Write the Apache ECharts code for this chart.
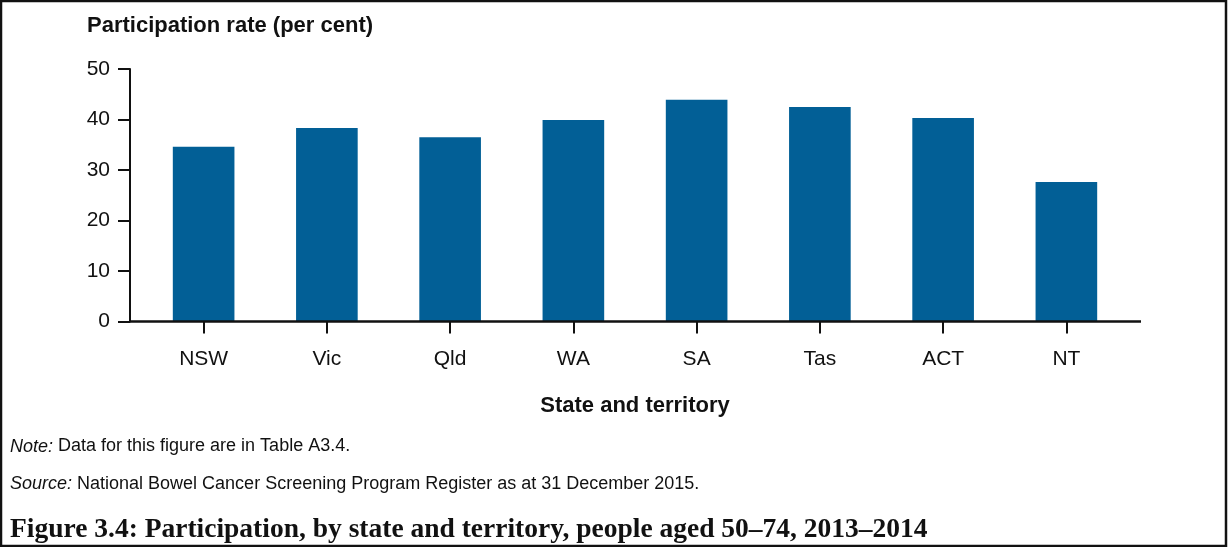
<!DOCTYPE html>
<html>
<head>
<meta charset="utf-8">
<script src="https://cdn.jsdelivr.net/npm/echarts@6/dist/echarts.min.js"></script>
<style>
html,body{margin:0;padding:0;background:#fff;}
#chart{width:1228px;height:547px;}
</style>
</head>
<body>
<div id="chart"></div>
<script>
const categories = ['NSW', 'Vic', 'Qld', 'WA', 'SA', 'Tas', 'ACT', 'NT'];
const participation = [34.6, 38.3, 36.5, 39.9, 43.9, 42.5, 40.3, 27.6];
const yTicks = [0, 10, 20, 30, 40, 50];

const yAxisTitle = 'Participation rate (per cent)';
const xAxisTitle = 'State and territory';
const noteLabel = 'Note:';
const noteText = ' Data for this figure are in Table A3.4.';
const sourceLabel = 'Source:';
const sourceText = ' National Bowel Cancer Screening Program Register as at 31 December 2015.';
const caption = 'Figure 3.4: Participation, by state and territory, people aged 50\u201374, 2013\u20132014';

const chart = echarts.init(document.getElementById('chart'), null, {renderer: 'canvas'});
const FONT = '"Liberation Sans", Arial, sans-serif';

const noteRich = {
  i: {fontFamily: FONT, fontSize: 18, fontStyle: 'italic', fontWeight: 'normal', color: '#111'},
  n: {fontFamily: FONT, fontSize: 18, fontWeight: 'normal', color: '#111'}
};

const option = {
  animation: false,
  backgroundColor: '#ffffff',
  title: [
    {
      text: yAxisTitle,
      left: 87, top: 14.5, padding: 0,
      textStyle: {fontFamily: FONT, fontSize: 22, fontWeight: 'bold', color: '#111'}
    },
    {
      text: xAxisTitle,
      left: 635, top: 394.5, padding: 0, textAlign: 'center',
      textStyle: {fontFamily: FONT, fontSize: 22, fontWeight: 'bold', color: '#111'}
    },
    {
      text: '{i|' + noteLabel + '}{n|' + noteText + '}',
      left: 10, top: 437.5, padding: 0,
      textStyle: {fontWeight: 'normal', rich: noteRich}
    },
    {
      text: '{i|' + sourceLabel + '}{n|' + sourceText + '}',
      left: 10, top: 475, padding: 0,
      textStyle: {fontWeight: 'normal', rich: noteRich}
    },
    {
      text: caption,
      left: 10, top: 516, padding: 0,
      textStyle: {fontFamily: '"Liberation Serif", "Times New Roman", serif', fontSize: 27.5, fontWeight: 'bold', color: '#111'}
    }
  ],
  grid: {left: 142, right: 100, top: 69, bottom: 225.5, containLabel: false},
  xAxis: {
    type: 'category',
    data: categories,
    boundaryGap: true,
    axisLine: {show: false},
    axisTick: {show: true, alignWithLabel: true, length: 12, lineStyle: {color: '#111', width: 2}},
    axisLabel: {fontFamily: FONT, fontSize: 21, color: '#111', margin: 27}
  },
  yAxis: {
    type: 'value',
    min: 0, max: 50, interval: 10,
    offset: 12,
    axisLine: {show: true, lineStyle: {color: '#111', width: 2}},
    axisTick: {show: true, length: 12, lineStyle: {color: '#111', width: 2}},
    axisLabel: {fontFamily: FONT, fontSize: 21, color: '#111', margin: 20,
      formatter: function (v) { return yTicks.indexOf(v) >= 0 ? String(v) : ''; }},
    splitLine: {show: false}
  },
  series: [{
    type: 'bar',
    data: participation,
    barWidth: '50%',
    itemStyle: {color: '#025f96'}
  }],
  graphic: [
    {type: 'line', shape: {x1: 130, y1: 321.5, x2: 1141, y2: 321.5}, style: {stroke: '#111', lineWidth: 2.5}, z: 100},
    {type: 'rect', shape: {x: 1, y: 1, width: 1225, height: 545}, style: {fill: null, stroke: '#111', lineWidth: 2.5}, z: 100}
  ]
};
chart.setOption(option);
</script>
</body>
</html>
